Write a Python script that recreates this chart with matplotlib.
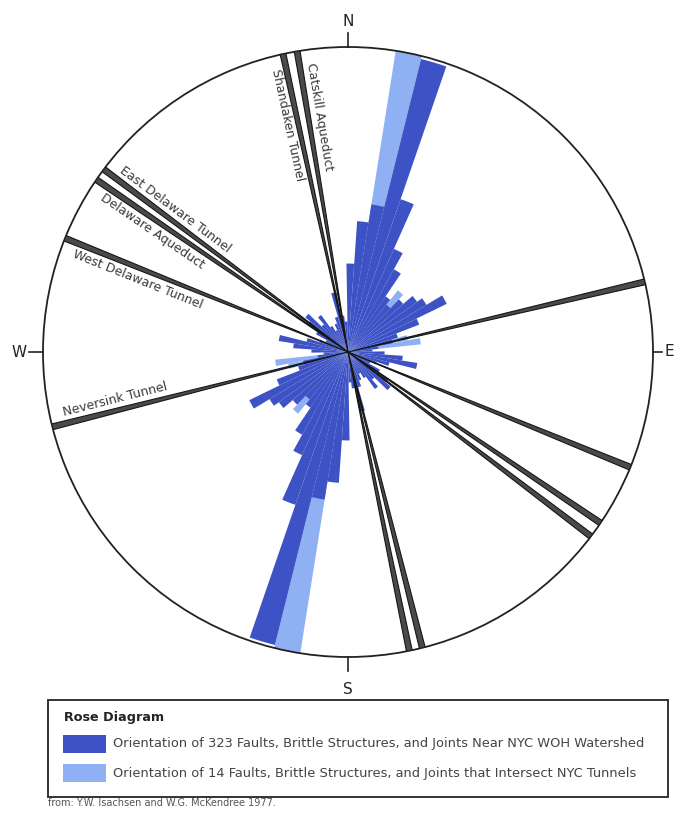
import numpy as np
import matplotlib
matplotlib.use("Agg")
import matplotlib.pyplot as plt
from matplotlib.patches import Rectangle

# ---------------- data ----------------
bin_width = 5.0          # degrees
bin_first_edge = -1.0    # degrees (first bin edge, bearing)
# relative petal lengths for bearings 0-180 (mirrored to 180-360)
dark_lengths = [0.29, 0.43, 0.49, 0.99, 0.53, 0.37, 0.31, 0.22, 0.20, 0.24,
                0.28, 0.30, 0.36, 0.25, 0.17, 0.15, 0.10, 0.08, 0.12, 0.18,
                0.23, 0.14, 0.10, 0.08, 0.12, 0.16, 0.18, 0.12, 0.15, 0.10,
                0.08, 0.10, 0.12, 0.20, 0.12, 0.10]
light_lengths = [0.00, 0.00, 1.00, 0.00, 0.00, 0.00, 0.22, 0.00, 0.26, 0.00,
                 0.00, 0.00, 0.00, 0.00, 0.00, 0.20, 0.24, 0.00, 0.00, 0.00,
                 0.00, 0.00, 0.00, 0.00, 0.00, 0.00, 0.00, 0.00, 0.00, 0.00,
                 0.00, 0.00, 0.00, 0.00, 0.00, 0.00]

tunnel_names = ["Catskill Aqueduct", "Shandaken Tunnel", "East Delaware Tunnel",
                "Delaware Aqueduct", "West Delaware Tunnel", "Neversink Tunnel",
                "", "", "", "", "", ""]
tunnel_bearings = [350.4, 347.7, 306.8, 304.4, 291.9, 255.8,
                   76.7, 112.2, 124.1, 127.2, 165.9, 168.4]
label_sides = [1, -1, 1, -1, -1, 1, 0, 0, 0, 0, 0, 0]

compass_labels = ["N", "E", "S", "W"]
compass_bearings = [0, 90, 180, 270]

legend_title = "Rose Diagram"
legend_labels = ["Orientation of 323 Faults, Brittle Structures, and Joints Near NYC WOH Watershed",
                 "Orientation of 14 Faults, Brittle Structures, and Joints that Intersect NYC Tunnels"]
source_text = "from: Y.W. Isachsen and W.G. McKendree 1977."

dark_color = "#3d52c4"
light_color = "#8fb1f3"

# ---------------- figure ----------------
W, H = 676, 815
fig = plt.figure(figsize=(W / 100, H / 100), dpi=100)
cx, cy, R = 348, 352, 305
ax = fig.add_axes([(cx - R) / W, 1 - (cy + R) / H, 2 * R / W, 2 * R / H],
                  projection="polar")
ax.set_theta_zero_location("N")
ax.set_theta_direction(-1)
ax.set_ylim(0, 1)
ax.grid(False)
ax.set_xticks([])
ax.set_yticks([])
ax.spines["polar"].set_linewidth(1.3)
ax.spines["polar"].set_color("#222222")

n = len(dark_lengths)
centers = bin_first_edge + bin_width * (np.arange(n) + 0.5)
all_centers = np.deg2rad(np.concatenate([centers, centers + 180]))
dark_all = np.array(dark_lengths + dark_lengths)
light_all = np.array(light_lengths + light_lengths)
w = np.deg2rad(bin_width)

ax.bar(all_centers, light_all, width=w, color=light_color, edgecolor="none",
       linewidth=0, zorder=2)
ax.bar(all_centers, dark_all, width=w, color=dark_color, edgecolor="none",
       linewidth=0, zorder=3)

# tunnels as thin wedges
ax.bar(np.deg2rad(tunnel_bearings), [1.0] * len(tunnel_bearings),
       width=np.deg2rad(1.1), color="#4a4a4a", edgecolor="#161616",
       linewidth=0.8, zorder=4)

# tunnel labels
for name, b, s in zip(tunnel_names, tunnel_bearings, label_sides):
    if not name:
        continue
    br = np.deg2rad(b)
    r0, d = 0.955, 0.036
    x = r0 * np.sin(br) + s * d * np.cos(br)
    y = r0 * np.cos(br) - s * d * np.sin(br)
    th = np.arctan2(x, y)
    rr = np.hypot(x, y)
    rot = np.degrees(np.arctan2(-np.cos(br), -np.sin(br)))
    ax.text(th, rr, name, rotation=rot, rotation_mode="anchor", ha="left",
            va="center", fontsize=9, color="#3a3a3a", zorder=5)

# compass ticks and letters
label_r = {"N": 1.085, "E": 1.052, "S": 1.105, "W": 1.08}
tick_end = {"N": 1.045, "E": 1.03, "S": 1.045, "W": 1.045}
for lab, b in zip(compass_labels, compass_bearings):
    t = np.deg2rad(b)
    ax.plot([t, t], [1.0, tick_end[lab]], color="#222222", lw=1.2, clip_on=False)
    ax.text(t, label_r[lab], lab, ha="center", va="center", fontsize=11,
            color="#222222", clip_on=False)

# ---------------- legend box ----------------
fig.add_artist(Rectangle((48 / W, 1 - 797 / H), 620 / W, 97 / H,
                         transform=fig.transFigure, fill=False,
                         edgecolor="#333333", linewidth=1.4))
fig.text(64 / W, 1 - 718 / H, legend_title, fontsize=9.2, fontweight="bold",
         color="#222222", ha="left", va="center")
for i, (lab, col) in enumerate(zip(legend_labels, [dark_color, light_color])):
    yc = [744, 773][i]
    fig.add_artist(Rectangle((63 / W, 1 - (yc + 9) / H), 43 / W, 18 / H,
                             transform=fig.transFigure, facecolor=col,
                             edgecolor="none"))
    fig.text(113 / W, 1 - yc / H, lab, fontsize=9.4, color="#444444",
             ha="left", va="center", family="Liberation Sans Narrow")
fig.text(48 / W, 1 - 803 / H, source_text, fontsize=7, color="#555555",
         ha="left", va="center")

fig.savefig("out.png", dpi=100)
